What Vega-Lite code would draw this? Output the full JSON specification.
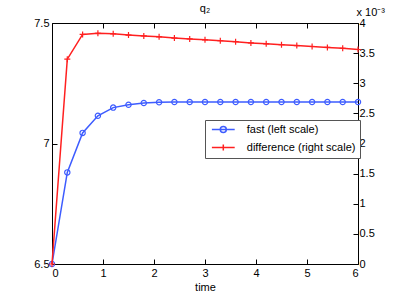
{
  "$schema": "https://vega.github.io/schema/vega-lite/v6.json",
  "width": 306,
  "height": 241,
  "autosize": {"type": "none"},
  "padding": {"left": 52, "top": 23, "right": 38, "bottom": 33},
  "background": "white",
  "config": {
    "view": {"stroke": "black", "strokeWidth": 1},
    "font": "Liberation Sans",
    "axis": {
      "grid": false,
      "domain": false,
      "tickColor": "black",
      "tickSize": -5,
      "tickWidth": 1,
      "labelColor": "black",
      "labelFont": "Liberation Sans",
      "labelFontSize": 11,
      "labelPadding": 8
    }
  },
  "title": {"text": "q₂", "fontSize": 11, "fontWeight": "normal", "offset": 9, "dy": 17, "frame": "group", "font": "Liberation Sans", "color": "black"},
  "datasets": {
    "fast": [
      {"t": 0.0, "value": 6.5, "series": "fast (left scale)"},
      {"t": 0.3, "value": 6.88, "series": "fast (left scale)"},
      {"t": 0.6, "value": 7.044, "series": "fast (left scale)"},
      {"t": 0.9, "value": 7.115, "series": "fast (left scale)"},
      {"t": 1.2, "value": 7.149, "series": "fast (left scale)"},
      {"t": 1.5, "value": 7.161, "series": "fast (left scale)"},
      {"t": 1.8, "value": 7.168, "series": "fast (left scale)"},
      {"t": 2.1, "value": 7.171, "series": "fast (left scale)"},
      {"t": 2.4, "value": 7.172, "series": "fast (left scale)"},
      {"t": 2.7, "value": 7.172, "series": "fast (left scale)"},
      {"t": 3.0, "value": 7.172, "series": "fast (left scale)"},
      {"t": 3.3, "value": 7.172, "series": "fast (left scale)"},
      {"t": 3.6, "value": 7.172, "series": "fast (left scale)"},
      {"t": 3.9, "value": 7.172, "series": "fast (left scale)"},
      {"t": 4.2, "value": 7.172, "series": "fast (left scale)"},
      {"t": 4.5, "value": 7.172, "series": "fast (left scale)"},
      {"t": 4.8, "value": 7.172, "series": "fast (left scale)"},
      {"t": 5.1, "value": 7.172, "series": "fast (left scale)"},
      {"t": 5.4, "value": 7.172, "series": "fast (left scale)"},
      {"t": 5.7, "value": 7.172, "series": "fast (left scale)"},
      {"t": 6.0, "value": 7.172, "series": "fast (left scale)"}
    ],
    "difference": [
      {"t": 0.0, "value": 0.0, "series": "difference (right scale)"},
      {"t": 0.3, "value": 0.00340, "series": "difference (right scale)"},
      {"t": 0.6, "value": 0.00381, "series": "difference (right scale)"},
      {"t": 0.9, "value": 0.00383, "series": "difference (right scale)"},
      {"t": 1.2, "value": 0.00382, "series": "difference (right scale)"},
      {"t": 1.5, "value": 0.00380, "series": "difference (right scale)"},
      {"t": 1.8, "value": 0.003785, "series": "difference (right scale)"},
      {"t": 2.1, "value": 0.00377, "series": "difference (right scale)"},
      {"t": 2.4, "value": 0.00375, "series": "difference (right scale)"},
      {"t": 2.7, "value": 0.003735, "series": "difference (right scale)"},
      {"t": 3.0, "value": 0.00372, "series": "difference (right scale)"},
      {"t": 3.3, "value": 0.003705, "series": "difference (right scale)"},
      {"t": 3.6, "value": 0.00369, "series": "difference (right scale)"},
      {"t": 3.9, "value": 0.00367, "series": "difference (right scale)"},
      {"t": 4.2, "value": 0.003655, "series": "difference (right scale)"},
      {"t": 4.5, "value": 0.00364, "series": "difference (right scale)"},
      {"t": 4.8, "value": 0.003625, "series": "difference (right scale)"},
      {"t": 5.1, "value": 0.00361, "series": "difference (right scale)"},
      {"t": 5.4, "value": 0.003595, "series": "difference (right scale)"},
      {"t": 5.7, "value": 0.00358, "series": "difference (right scale)"},
      {"t": 6.0, "value": 0.00356, "series": "difference (right scale)"}
    ]
  },
  "layer": [
    {
      "data": {"name": "fast"},
      "mark": {"type": "line", "strokeWidth": 1.5, "point": {"filled": false, "shape": "circle", "size": 28, "strokeWidth": 1.2}},
      "encoding": {
        "x": {
          "field": "t", "type": "quantitative",
          "scale": {"domain": [0, 6], "nice": false},
          "axis": {"orient": "bottom", "values": [0, 1, 2, 3, 4, 5, 6], "title": "time", "titleFontWeight": "normal", "titleFontSize": 11, "titleFont": "Liberation Sans", "titleColor": "black", "titlePadding": 3}
        },
        "y": {
          "field": "value", "type": "quantitative",
          "scale": {"domain": [6.5, 7.5], "nice": false, "zero": false},
          "axis": {"orient": "left", "values": [6.5, 7, 7.5], "title": null, "labelExpr": "toString(datum.value)"}
        },
        "color": {
          "field": "series", "type": "nominal",
          "scale": {"domain": ["fast (left scale)", "difference (right scale)"], "range": ["#3d5cff", "#ff2020"]},
          "legend": {
            "orient": "none", "legendX": 153, "legendY": 97,
            "title": null,
            "strokeColor": "#555", "fillColor": "white", "padding": 4,
            "labelFontSize": 11, "labelFont": "Liberation Sans", "labelColor": "black",
            "symbolSize": 36, "symbolStrokeWidth": 1.5, "symbolOffset": 8.8, "labelOffset": 18,
            "rowPadding": 5, "symbolFillColor": "transparent",
            "encode": {"symbols": {"update": {"shape": {"signal": "datum.value == 'fast (left scale)' ? 'M-3.8,0L3.8,0M1,0A1,1 0 1,1 -1,0A1,1 0 1,1 1,0' : 'M-3.8,0L3.8,0M0,-1L0,1'"}, "fill": {"value": "transparent"}}}}
          }
        }
      }
    },
    {
      "data": {"name": "difference"},
      "mark": {"type": "line", "strokeWidth": 1.5, "point": {"filled": false, "shape": "M-1,0L1,0M0,-1L0,1", "size": 36, "strokeWidth": 1.2}},
      "encoding": {
        "x": {
          "field": "t", "type": "quantitative",
          "scale": {"domain": [0, 6], "nice": false},
          "axis": {"orient": "top", "values": [0, 1, 2, 3, 4, 5, 6], "labels": false, "title": null}
        },
        "y": {
          "field": "value", "type": "quantitative",
          "scale": {"domain": [0, 0.004], "nice": false},
          "axis": {
            "orient": "right",
            "values": [0, 0.0005, 0.001, 0.0015, 0.002, 0.0025, 0.003, 0.0035, 0.004],
            "labelExpr": "toString(round(datum.value*10000)/10)",
            "labelPadding": 6,
            "title": "x 10⁻³", "titleAngle": 0, "titleX": -2, "titleY": -8,
            "titleAlign": "left", "titleBaseline": "alphabetic",
            "titleFontWeight": "normal", "titleFontSize": 11, "titleFont": "Liberation Sans", "titleColor": "black"
          }
        },
        "color": {"field": "series", "type": "nominal"}
      }
    }
  ],
  "resolve": {"scale": {"x": "independent", "y": "independent"}}
}
